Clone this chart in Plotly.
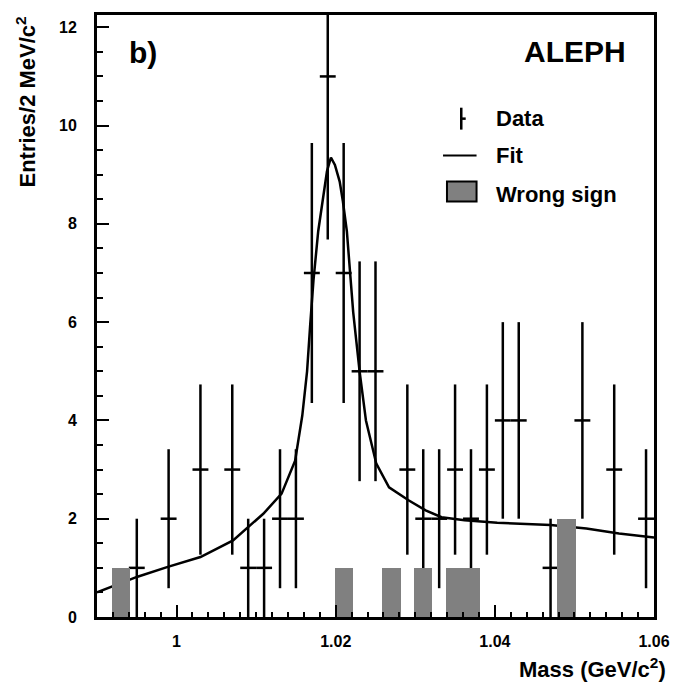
import plotly.graph_objects as go
import numpy as np

# ---- data ----
data_x = [0.995, 0.999, 1.003, 1.007, 1.009, 1.011, 1.013, 1.015, 1.017, 1.019,
          1.021, 1.023, 1.025, 1.029, 1.031, 1.033, 1.035, 1.037, 1.039, 1.041,
          1.043, 1.047, 1.051, 1.055, 1.059]
data_y = [1, 2, 3, 3, 1, 1, 2, 2, 7, 11,
          7, 5, 5, 3, 2, 2, 3, 2, 3, 4,
          4, 1, 4, 3, 2]
bin_half_width = 0.001

fit_x = [0.9900, 0.9951, 0.9989, 1.0030, 1.0071, 1.0090, 1.0109, 1.0132, 1.0149, 1.0158,
         1.0164, 1.0168, 1.0172, 1.0178, 1.0184, 1.0189, 1.0194, 1.0199, 1.0205, 1.0209,
         1.0214, 1.0218, 1.0222, 1.0226, 1.0230, 1.0238, 1.0251, 1.0267, 1.0292, 1.0313,
         1.0333, 1.0362, 1.0403, 1.0470, 1.0515, 1.0556, 1.0600]
fit_y = [0.50, 0.82, 1.02, 1.22, 1.56, 1.83, 2.10, 2.51, 3.18, 4.10,
         5.00, 5.96, 6.84, 7.85, 8.53, 9.07, 9.35, 9.20, 8.86, 8.46,
         7.85, 7.00, 6.20, 5.60, 5.00, 4.00, 3.12, 2.64, 2.37, 2.17,
         2.03, 1.97, 1.92, 1.87, 1.80, 1.70, 1.62]

ws_x = [0.993, 1.021, 1.027, 1.031, 1.035, 1.037, 1.049]
ws_y = [1, 1, 1, 1, 1, 1, 2]
ws_width = 0.0023

x_tickvals = [1.00, 1.02, 1.04, 1.06]
x_ticktext = ["1", "1.02", "1.04", "1.06"]
y_tickvals = [0, 2, 4, 6, 8, 10, 12]

FONT = "Liberation Sans, Arial, sans-serif"
GREY = "#808080"

fig = go.Figure()

# data points with error bars
fig.add_trace(go.Scatter(
    x=data_x, y=data_y, mode="markers",
    marker=dict(size=2, color="black"),
    error_y=dict(type="data", array=list(np.sqrt(data_y)), thickness=2.5, width=0, color="black"),
    error_x=dict(type="constant", value=bin_half_width, thickness=2.5, width=0, color="black"),
    showlegend=False, hoverinfo="skip",
))

# fit curve
fig.add_trace(go.Scatter(
    x=fit_x, y=fit_y, mode="lines",
    line=dict(color="black", width=2.5),
    showlegend=False, hoverinfo="skip",
))

# wrong sign histogram (on an overlay subplot so it is drawn on top)
fig.add_trace(go.Bar(
    x=ws_x, y=ws_y, width=[ws_width] * len(ws_x),
    marker=dict(color=GREY, line=dict(width=0)),
    xaxis="x2", yaxis="y2",
    showlegend=False, hoverinfo="skip",
))

xr = [0.99, 1.06]
yr = [0, 12.25]

fig.update_layout(
    width=682, height=688,
    margin=dict(l=97, r=20, t=13, b=71),
    paper_bgcolor="white", plot_bgcolor="white",
    bargap=0,
    xaxis=dict(
        range=xr, showgrid=False, zeroline=False,
        showline=True, linecolor="black", linewidth=3, mirror=True,
        ticks="inside", ticklen=12, tickwidth=2, tickcolor="black",
        tickvals=x_tickvals, ticktext=x_ticktext,
        tickfont=dict(family=FONT, size=16, color="black", weight="bold"),
        ticklabelstandoff=8,
        minor=dict(ticks="inside", tick0=0.99, dtick=0.002, ticklen=5, tickwidth=2, tickcolor="black", showgrid=False),
    ),
    yaxis=dict(
        range=yr, showgrid=False, zeroline=False,
        showline=True, linecolor="black", linewidth=3, mirror=True,
        ticks="inside", ticklen=12, tickwidth=2, tickcolor="black",
        tickvals=y_tickvals,
        tickfont=dict(family=FONT, size=16, color="black", weight="bold"),
        ticklabelstandoff=14,
        minor=dict(ticks="inside", tick0=0, dtick=0.5, ticklen=6, tickwidth=2, tickcolor="black", showgrid=False),
    ),
    xaxis2=dict(range=xr, overlaying="x", visible=False, showgrid=False, zeroline=False),
    yaxis2=dict(range=yr, overlaying="y", visible=False, showgrid=False, zeroline=False),
)

def px2paper_x(px):
    return (px - 97) / 565.0

def px2paper_y(py):
    return (617 - py) / 604.0

annotations = [
    dict(text="b)", x=px2paper_x(127), y=px2paper_y(51), xanchor="left", yanchor="middle",
         font=dict(family=FONT, size=30, color="black", weight="bold")),
    dict(text="ALEPH", x=px2paper_x(636), y=px2paper_y(50), xanchor="right", yanchor="middle",
         font=dict(family=FONT, size=30, color="black", weight="bold")),
    dict(text="Data", x=px2paper_x(500), y=px2paper_y(117), xanchor="left", yanchor="middle",
         font=dict(family=FONT, size=22, color="black", weight="bold")),
    dict(text="Fit", x=px2paper_x(500), y=px2paper_y(154), xanchor="left", yanchor="middle",
         font=dict(family=FONT, size=22, color="black", weight="bold")),
    dict(text="Wrong sign", x=px2paper_x(500), y=px2paper_y(193), xanchor="left", yanchor="middle",
         font=dict(family=FONT, size=22, color="black", weight="bold")),
    dict(text="Entries/2 MeV/c<sup>2</sup>", textangle=-90,
         x=px2paper_x(24), y=px2paper_y(13), xanchor="center", yanchor="top",
         font=dict(family=FONT, size=22, color="black", weight="bold")),
    dict(text="Mass (GeV/c<sup>2</sup>)",
         x=px2paper_x(676), y=px2paper_y(668), xanchor="right", yanchor="middle",
         font=dict(family=FONT, size=22, color="black", weight="bold")),
]
for a in annotations:
    a.update(xref="paper", yref="paper", showarrow=False)
fig.update_layout(annotations=annotations)

# legend symbols (decoration)
shapes = [
    dict(type="line", x0=px2paper_x(466.5), x1=px2paper_x(466.5), y0=px2paper_y(106), y1=px2paper_y(128),
         line=dict(color="black", width=2.5)),
    dict(type="line", x0=px2paper_x(466.5), x1=px2paper_x(471), y0=px2paper_y(117), y1=px2paper_y(117),
         line=dict(color="black", width=2.5)),
    dict(type="line", x0=px2paper_x(448), x1=px2paper_x(482), y0=px2paper_y(154), y1=px2paper_y(154),
         line=dict(color="black", width=2)),
    dict(type="rect", x0=px2paper_x(452), x1=px2paper_x(482), y0=px2paper_y(200), y1=px2paper_y(180),
         line=dict(color="black", width=2), fillcolor=GREY),
]
for s in shapes:
    s.update(xref="paper", yref="paper")
fig.update_layout(shapes=shapes)

fig.write_html("out.html")
